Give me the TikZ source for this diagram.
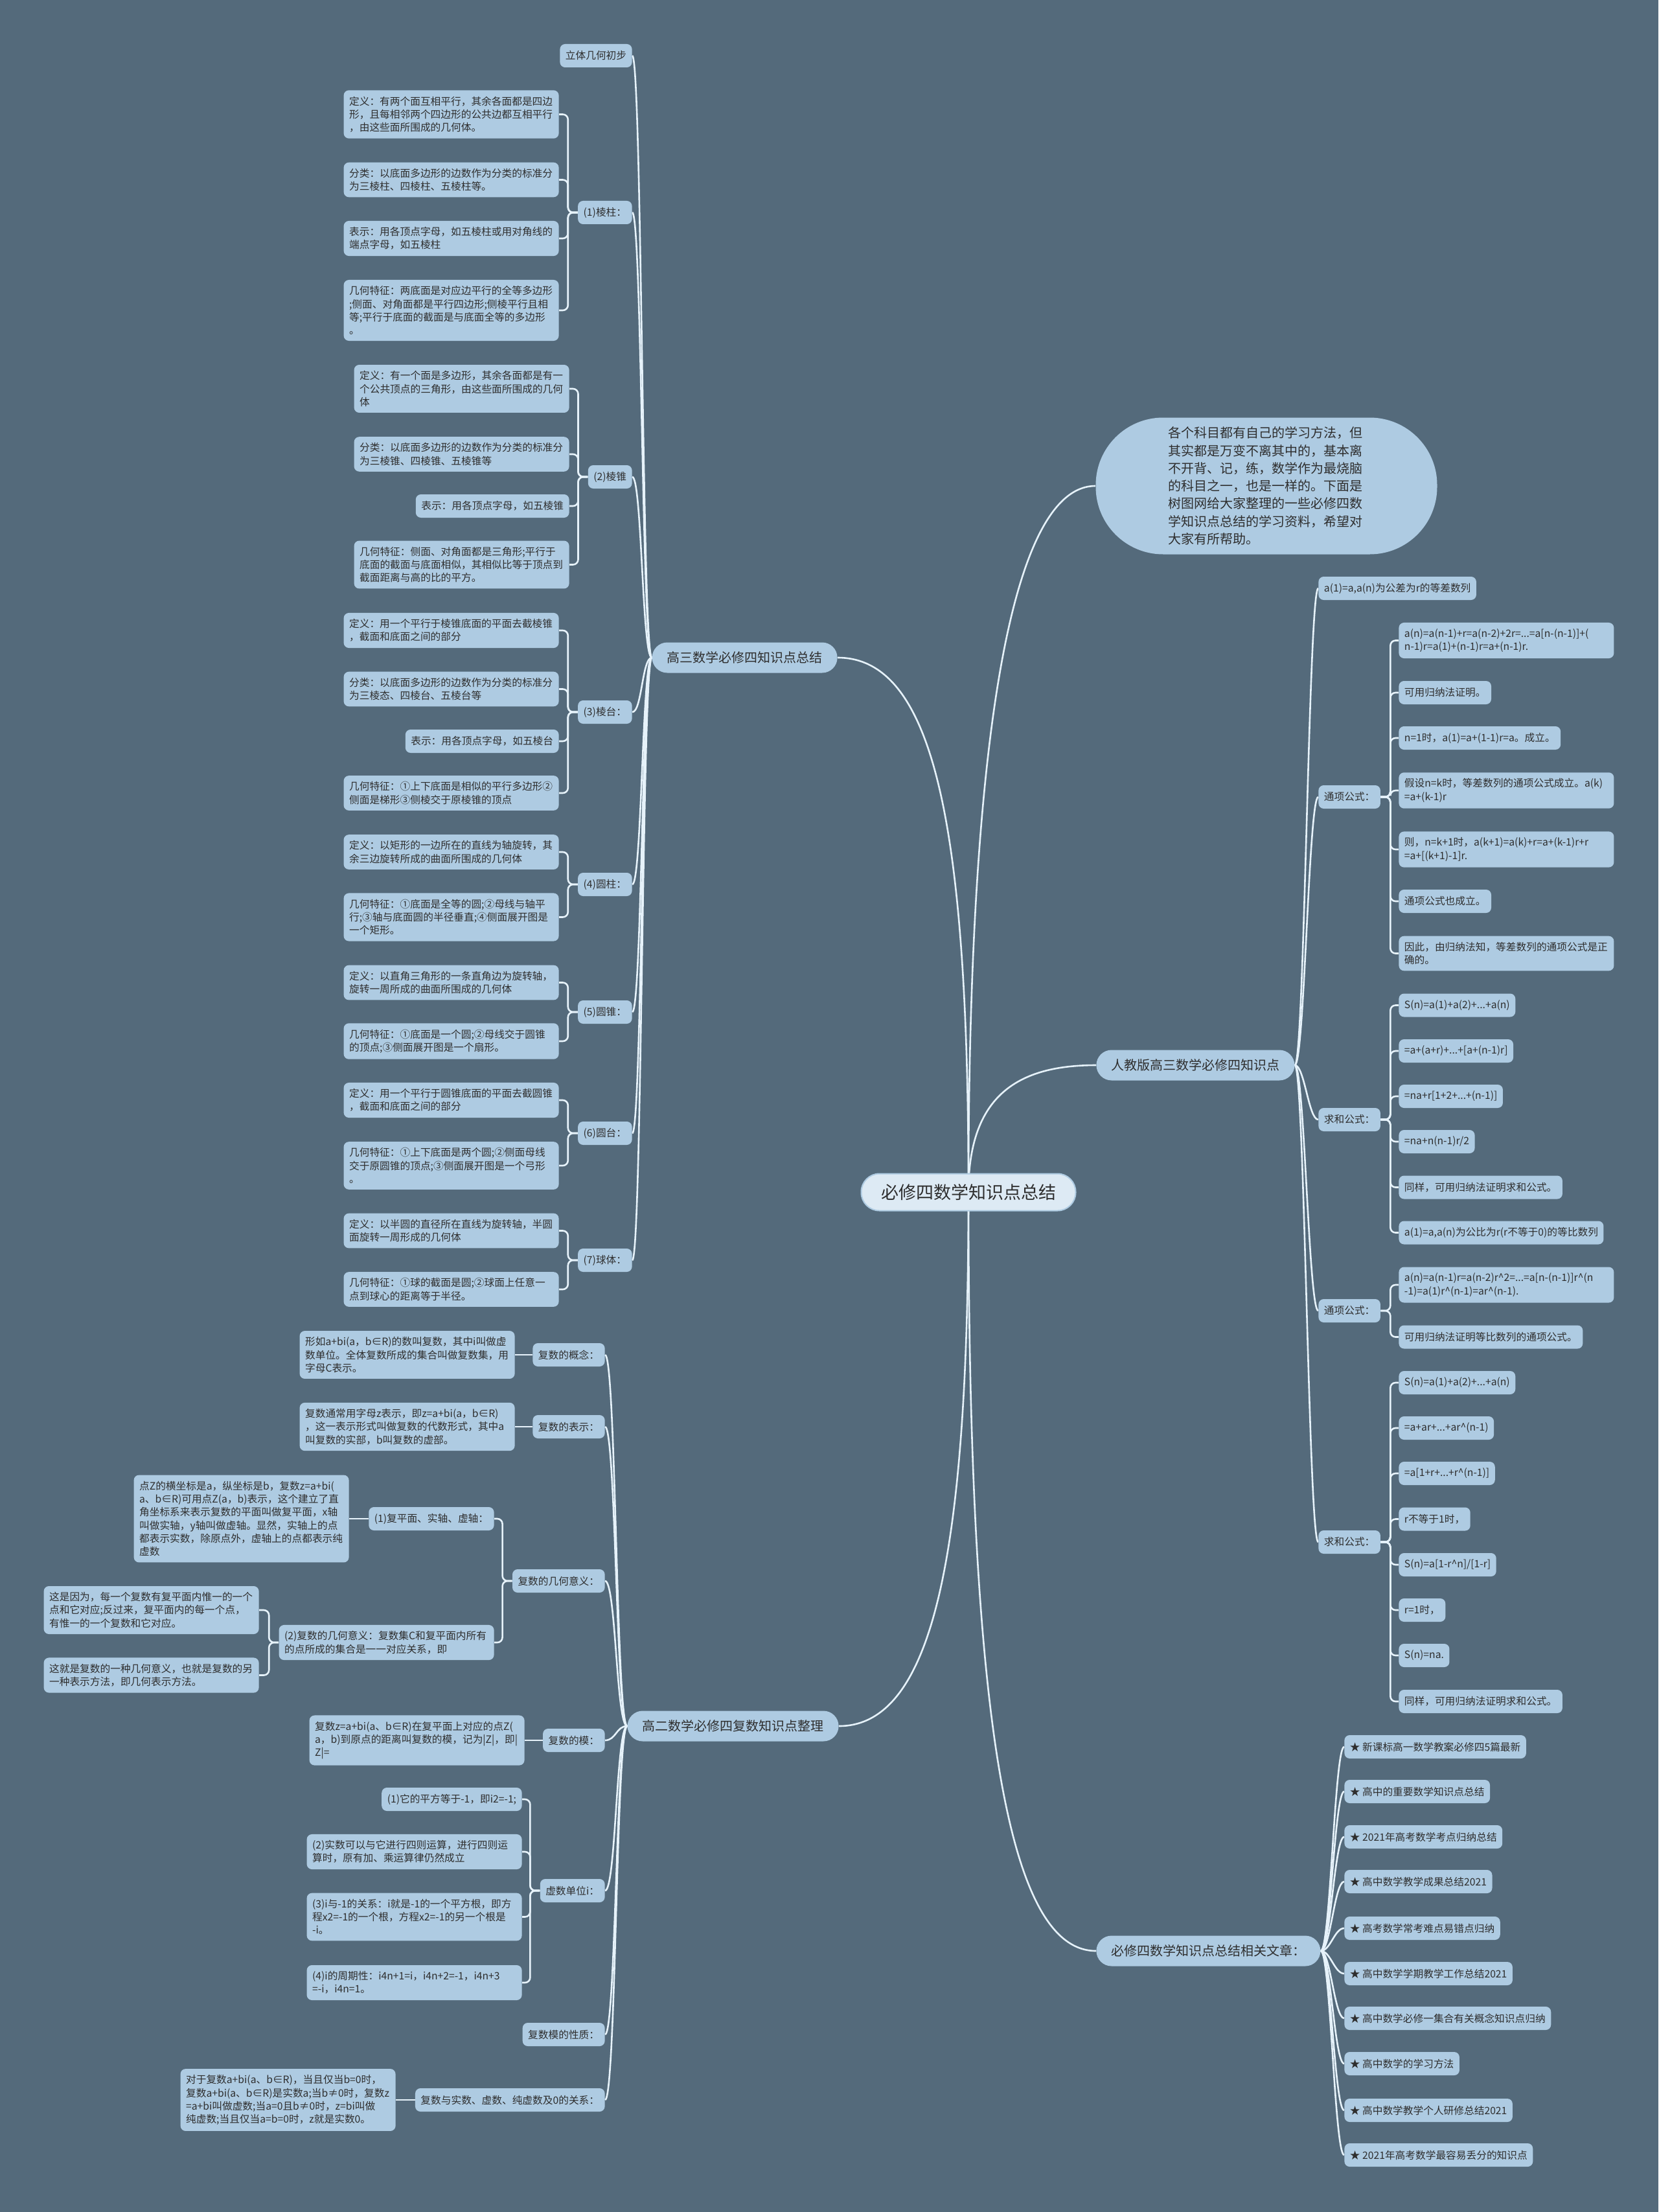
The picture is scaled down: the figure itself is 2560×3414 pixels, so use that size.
\documentclass[tikz,border=0pt]{standalone}
\usepackage{fontspec}
\setmainfont{Noto Sans CJK SC}
\definecolor{bgc}{HTML}{546A7B}
\definecolor{nodefill}{HTML}{AECBE2}
\definecolor{linec}{HTML}{E6F2FA}
\definecolor{textc}{HTML}{2E2E2E}
\definecolor{centerfill}{HTML}{DDEAF4}
\pgfdeclarelayer{bgl}
\pgfdeclarelayer{edges}
\pgfsetlayers{bgl,edges,main}
\newcommand\leaffs{\fontsize{7.85pt}{10.15pt}\selectfont}
\tikzset{
  nbox/.style={fill=nodefill, text=textc, rounded corners=4pt, inner xsep=4.25pt, inner ysep=4.7pt, minimum height=18pt, font=\leaffs, align=left},
  bl/.style={nbox, anchor=east},
  br/.style={nbox, anchor=west},
  tw/.style={text width=157.5pt},
  lone/.style={fill=nodefill, text=textc, rounded corners=11.75pt, inner xsep=11.5pt, inner ysep=0pt, minimum height=23.5pt, font=\fontsize{10pt}{12pt}\selectfont},
  conn/.style={draw=linec, line width=1.3pt},
  brk/.style={conn, rounded corners=4pt},
}
\begin{document}
\begin{tikzpicture}[x=0.5pt,y=-0.5pt]
\begin{pgfonlayer}{bgl}
\fill[bgc] (0,0) rectangle (2560,3414);
\end{pgfonlayer}
\useasboundingbox (0,0) rectangle (2560,3414);

% root and level 1
\node[fill=centerfill, draw=nodefill, line width=1pt, text=textc, rounded corners=14pt, minimum width=165.5pt, minimum height=28.5pt, font=\fontsize{13.5pt}{16pt}\selectfont] (root) at (1495,1840) {必修四数学知识点总结};
\node[lone, anchor=east] (gs) at (1293,1015) {高三数学必修四知识点总结};
\node[lone, anchor=east] (ge) at (1295,2664) {高二数学必修四复数知识点整理};
\node[fill=nodefill, text=textc, rounded corners=52pt, minimum width=263.5pt, minimum height=105.5pt, text width=152pt, align=left, font=\fontsize{10pt}{13.65pt}\selectfont] (intro) at (1955,750) {各个科目都有自己的学习方法，但\\其实都是万变不离其中的，基本离\\不开背、记，练，数学作为最烧脑\\的科目之一，也是一样的。下面是\\树图网给大家整理的一些必修四数\\学知识点总结的学习资料，希望对\\大家有所帮助。};
\node[lone, anchor=west] (rj) at (1692,1644) {人教版高三数学必修四知识点};
\node[lone, anchor=west] (xg) at (1692,3011) {必修四数学知识点总结相关文章：};

% branch 1
\node[bl] (lt) at (976,86) {立体几何初步};
\node[bl] (c1) at (976,328) {(1)棱柱：};
\node[bl] (c2) at (976,736) {(2)棱锥};
\node[bl] (c3) at (976,1099) {(3)棱台：};
\node[bl] (c4) at (976,1365) {(4)圆柱：};
\node[bl] (c5) at (976,1562) {(5)圆锥：};
\node[bl] (c6) at (976,1749) {(6)圆台：};
\node[bl] (c7) at (976,1945) {(7)球体：};

\node[bl,tw] (l11) at (863,176.5) {定义：有两个面互相平行，其余各面都是四边\\形，且每相邻两个四边形的公共边都互相平行\\，由这些面所围成的几何体。};
\node[bl,tw] (l12) at (863,277.5) {分类：以底面多边形的边数作为分类的标准分\\为三棱柱、四棱柱、五棱柱等。};
\node[bl,tw] (l13) at (863,368) {表示：用各顶点字母，如五棱柱或用对角线的\\端点字母，如五棱柱};
\node[bl,tw] (l14) at (863,479) {几何特征：两底面是对应边平行的全等多边形\\;侧面、对角面都是平行四边形;侧棱平行且相\\等;平行于底面的截面是与底面全等的多边形\\。};

\node[bl,tw] (l21) at (879,600) {定义：有一个面是多边形，其余各面都是有一\\个公共顶点的三角形，由这些面所围成的几何\\体};
\node[bl,tw] (l22) at (879,701) {分类：以底面多边形的边数作为分类的标准分\\为三棱锥、四棱锥、五棱锥等};
\node[bl] (l23) at (879,781) {表示：用各顶点字母，如五棱锥};
\node[bl,tw] (l24) at (879,871.5) {几何特征：侧面、对角面都是三角形;平行于\\底面的截面与底面相似，其相似比等于顶点到\\截面距离与高的比的平方。};

\node[bl,tw] (l31) at (863,973) {定义：用一个平行于棱锥底面的平面去截棱锥\\，截面和底面之间的部分};
\node[bl,tw] (l32) at (863,1063.5) {分类：以底面多边形的边数作为分类的标准分\\为三棱态、四棱台、五棱台等};
\node[bl] (l33) at (863,1144) {表示：用各顶点字母，如五棱台};
\node[bl,tw] (l34) at (863,1224) {几何特征：①上下底面是相似的平行多边形②\\侧面是梯形③侧棱交于原棱锥的顶点};

\node[bl,tw] (l41) at (863,1315) {定义：以矩形的一边所在的直线为轴旋转，其\\余三边旋转所成的曲面所围成的几何体};
\node[bl,tw] (l42) at (863,1415.5) {几何特征：①底面是全等的圆;②母线与轴平\\行;③轴与底面圆的半径垂直;④侧面展开图是\\一个矩形。};

\node[bl,tw] (l51) at (863,1516.5) {定义：以直角三角形的一条直角边为旋转轴，\\旋转一周所成的曲面所围成的几何体};
\node[bl,tw] (l52) at (863,1607) {几何特征：①底面是一个圆;②母线交于圆锥\\的顶点;③侧面展开图是一个扇形。};

\node[bl,tw] (l61) at (863,1698) {定义：用一个平行于圆锥底面的平面去截圆锥\\，截面和底面之间的部分};
\node[bl,tw] (l62) at (863,1799) {几何特征：①上下底面是两个圆;②侧面母线\\交于原圆锥的顶点;③侧面展开图是一个弓形\\。};

\node[bl,tw] (l71) at (863,1899.5) {定义：以半圆的直径所在直线为旋转轴，半圆\\面旋转一周形成的几何体};
\node[bl,tw] (l72) at (863,1990) {几何特征：①球的截面是圆;②球面上任意一\\点到球心的距离等于半径。};

% branch 2
\node[bl] (k1) at (934,2091) {复数的概念：};
\node[bl] (k2) at (934,2202) {复数的表示：};
\node[bl] (k3) at (934,2440) {复数的几何意义：};
\node[bl] (k4) at (934,2686) {复数的模：};
\node[bl] (k5) at (934,2918) {虚数单位i：};
\node[bl] (k6) at (934,3140) {复数模的性质：};
\node[bl] (k7) at (934,3241) {复数与实数、虚数、纯虚数及0的关系：};

\node[bl,tw] (k1a) at (795,2091) {形如a+bi(a，b∈R)的数叫复数，其中i叫做虚\\数单位。全体复数所成的集合叫做复数集，用\\字母C表示。};
\node[bl,tw] (k2a) at (795,2202) {复数通常用字母z表示，即z=a+bi(a，b∈R)\\，这一表示形式叫做复数的代数形式，其中a\\叫复数的实部，b叫复数的虚部。};
\node[bl] (k31) at (763,2344) {(1)复平面、实轴、虚轴：};
\node[bl,tw] (k31a) at (539,2344) {点Z的横坐标是a，纵坐标是b，复数z=a+bi(\\a、b∈R)可用点Z(a，b)表示，这个建立了直\\角坐标系来表示复数的平面叫做复平面，x轴\\叫做实轴，y轴叫做虚轴。显然，实轴上的点\\都表示实数，除原点外，虚轴上的点都表示纯\\虚数};
\node[bl,tw] (k32) at (763,2535) {(2)复数的几何意义：复数集C和复平面内所有\\的点所成的集合是一一对应关系，即};
\node[bl,tw] (k32a) at (400,2485) {这是因为，每一个复数有复平面内惟一的一个\\点和它对应;反过来，复平面内的每一个点，\\有惟一的一个复数和它对应。};
\node[bl,tw] (k32b) at (400,2585.5) {这就是复数的一种几何意义，也就是复数的另\\一种表示方法，即几何表示方法。};
\node[bl,tw] (k4a) at (810,2686) {复数z=a+bi(a、b∈R)在复平面上对应的点Z(\\a，b)到原点的距离叫复数的模，记为|Z|，即|\\Z|=};
\node[bl] (k51) at (806,2777) {(1)它的平方等于-1，即i2=-1;};
\node[bl,tw] (k52) at (806,2858) {(2)实数可以与它进行四则运算，进行四则运\\算时，原有加、乘运算律仍然成立};
\node[bl,tw] (k53) at (806,2958.5) {(3)i与-1的关系：i就是-1的一个平方根，即方\\程x2=-1的一个根，方程x2=-1的另一个根是\\-i。};
\node[bl,tw] (k54) at (806,3060) {(4)i的周期性：i4n+1=i，i4n+2=-1，i4n+3\\=-i，i4n=1。};
\node[bl,tw] (k7a) at (611,3241) {对于复数a+bi(a、b∈R)，当且仅当b=0时，\\复数a+bi(a、b∈R)是实数a;当b≠0时，复数z\\=a+bi叫做虚数;当a=0且b≠0时，z=bi叫做\\纯虚数;当且仅当a=b=0时，z就是实数0。};

% right branch
\node[br] (r1) at (2035,908) {a(1)=a,a(n)为公差为r的等差数列};
\node[br] (r2) at (2035,1230) {通项公式：};
\node[br] (r3) at (2035,1728) {求和公式：};
\node[br] (r4) at (2035,2023) {通项公式：};
\node[br] (r5) at (2035,2380) {求和公式：};

\node[br,tw] (r2a) at (2159,988.5) {a(n)=a(n-1)+r=a(n-2)+2r=...=a[n-(n-1)]+(\\n-1)r=a(1)+(n-1)r=a+(n-1)r.};
\node[br] (r2b) at (2159,1069) {可用归纳法证明。};
\node[br] (r2c) at (2159,1139) {n=1时，a(1)=a+(1-1)r=a。成立。};
\node[br,tw] (r2d) at (2159,1220) {假设n=k时，等差数列的通项公式成立。a(k)\\=a+(k-1)r};
\node[br,tw] (r2e) at (2159,1311) {则，n=k+1时，a(k+1)=a(k)+r=a+(k-1)r+r\\=a+[(k+1)-1]r.};
\node[br] (r2f) at (2159,1391) {通项公式也成立。};
\node[br,tw] (r2g) at (2159,1471.5) {因此，由归纳法知，等差数列的通项公式是正\\确的。};

\node[br] (r3a) at (2159,1551.5) {S(n)=a(1)+a(2)+...+a(n)};
\node[br] (r3b) at (2159,1622) {=a+(a+r)+...+[a+(n-1)r]};
\node[br] (r3c) at (2159,1692) {=na+r[1+2+...+(n-1)]};
\node[br] (r3d) at (2159,1762) {=na+n(n-1)r/2};
\node[br] (r3e) at (2159,1832.5) {同样，可用归纳法证明求和公式。};
\node[br] (r3f) at (2159,1902.5) {a(1)=a,a(n)为公比为r(r不等于0)的等比数列};

\node[br,tw] (r4a) at (2159,1983) {a(n)=a(n-1)r=a(n-2)r\textasciicircum 2=...=a[n-(n-1)]r\textasciicircum (n\\-1)=a(1)r\textasciicircum (n-1)=ar\textasciicircum (n-1).};
\node[br] (r4b) at (2159,2063.5) {可用归纳法证明等比数列的通项公式。};

\node[br] (r5a) at (2159,2134) {S(n)=a(1)+a(2)+...+a(n)};
\node[br] (r5b) at (2159,2204) {=a+ar+...+ar\textasciicircum (n-1)};
\node[br] (r5c) at (2159,2274) {=a[1+r+...+r\textasciicircum (n-1)]};
\node[br] (r5d) at (2159,2344.5) {r不等于1时，};
\node[br] (r5e) at (2159,2415) {S(n)=a[1-r\textasciicircum n]/[1-r]};
\node[br] (r5f) at (2159,2485) {r=1时，};
\node[br] (r5g) at (2159,2555) {S(n)=na.};
\node[br] (r5h) at (2159,2626) {同样，可用归纳法证明求和公式。};

% related articles
\node[br] (x1) at (2075,2696) {★ 新课标高一数学教案必修四5篇最新};
\node[br] (x2) at (2075,2765) {★ 高中的重要数学知识点总结};
\node[br] (x3) at (2075,2835) {★ 2021年高考数学考点归纳总结};
\node[br] (x4) at (2075,2904) {★ 高中数学教学成果总结2021};
\node[br] (x5) at (2075,2976) {★ 高考数学常考难点易错点归纳};
\node[br] (x6) at (2075,3046) {★ 高中数学学期教学工作总结2021};
\node[br] (x7) at (2075,3115) {★ 高中数学必修一集合有关概念知识点归纳};
\node[br] (x8) at (2075,3185) {★ 高中数学的学习方法};
\node[br] (x9) at (2075,3257) {★ 高中数学教学个人研修总结2021};
\node[br] (x10) at (2075,3326) {★ 2021年高考数学最容易丢分的知识点};

\begin{pgfonlayer}{edges}
\draw[conn] (root.center) .. controls +(0,-560) and +(150,0) .. (gs.east);
\draw[conn] (root.center) .. controls +(0,540) and +(150,0) .. (ge.east);
\draw[conn] (root.center) .. controls +(0,-640) and +(-140,0) .. (intro.west);
\draw[conn] (root.center) .. controls +(0,-150) and +(-120,0) .. (rj.west);
\draw[conn] (root.center) .. controls +(0,850) and +(-130,0) .. (xg.west);

\foreach \n in {lt,c1,c2,c3,c4,c5,c6,c7}
  \draw[conn] (\n.east) .. controls +(15,0) and +(-15,0) .. (gs.west);
\foreach \c/\l in {c1/l11,c1/l12,c1/l13,c1/l14,c2/l21,c2/l22,c2/l23,c2/l24,c3/l31,c3/l32,c3/l33,c3/l34,c4/l41,c4/l42,c5/l51,c5/l52,c6/l61,c6/l62,c7/l71,c7/l72}
  \draw[brk] (\c.west) -- ++(-15,0) |- (\l.east);

\foreach \n in {k1,k2,k3,k4,k5,k6,k7}
  \draw[conn] (\n.east) .. controls +(17,0) and +(-17,0) .. (ge.west);
\foreach \c/\l in {k1/k1a,k2/k2a,k31/k31a,k4/k4a,k7/k7a}
  \draw[conn] (\c.west) -- (\l.east);
\foreach \c/\l in {k3/k31,k3/k32,k32/k32a,k32/k32b,k5/k51,k5/k52,k5/k53,k5/k54}
  \draw[brk] (\c.west) -- ++(-15,0) |- (\l.east);

\foreach \n in {r1,r2,r3,r4,r5}
  \draw[conn] (rj.east) .. controls +(15,0) and +(-15,0) .. (\n.west);
\foreach \c/\l in {r2/r2a,r2/r2b,r2/r2c,r2/r2d,r2/r2e,r2/r2f,r2/r2g,r3/r3a,r3/r3b,r3/r3c,r3/r3d,r3/r3e,r3/r3f,r4/r4a,r4/r4b,r5/r5a,r5/r5b,r5/r5c,r5/r5d,r5/r5e,r5/r5f,r5/r5g,r5/r5h}
  \draw[brk] (\c.east) -- ++(15,0) |- (\l.west);

\foreach \n in {x1,x2,x3,x4,x5,x6,x7,x8,x9,x10}
  \draw[conn] (xg.east) .. controls +(15,0) and +(-15,0) .. (\n.west);
\end{pgfonlayer}
\end{tikzpicture}
\end{document}
